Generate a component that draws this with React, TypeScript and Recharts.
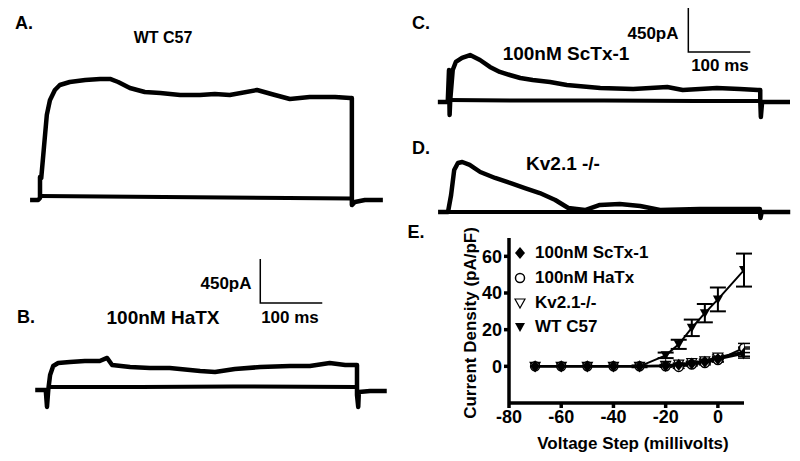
import React from "react";
import { ErrorBar, Legend, Line, LineChart, XAxis, YAxis } from "recharts";

// ---- panel E: current density vs voltage step ----
const voltages = [-70, -60, -50, -40, -30, -20, -15, -10, -5, 0, 10];
const scTx1 = [0, 0, 0, 0, 0, 0.3, 0.8, 1.5, 2.5, 4, 7];
const scTx1Err = [null, null, null, null, null, 0.5, 0.6, 0.8, 1, 1.2, 2.5];
const haTx = [0, 0, 0, 0, 0, 0, -0.3, 1, 1.8, 3.5, 10];
const haTxErr = [null, null, null, null, null, 0.5, 0.8, 0.8, 1, 1.2, 2.5];
const kv21KO = [0, 0, 0, 0, 0, 0.5, 1.2, 2, 3, 5, 8];
const kv21KOErr = [null, null, null, null, null, 0.5, 0.6, 0.8, 1, 1.2, 2.5];
const wtC57 = [0, 0, 0, 0, 0, 6, 12, 21, 29, 36.5, 52.5];
const wtC57Err = [null, null, null, null, 0.5, 1.5, 2.5, 4.5, 5, 6.5, 9];

const yTicks = [0, 20, 40, 60];
const xTicks = [-80, -60, -40, -20, 0];

const ivRows = voltages.map((v, i) => ({
  v,
  sc: scTx1[i],
  scErr: scTx1Err[i],
  ha: haTx[i],
  haErr: haTxErr[i],
  kv: kv21KO[i],
  kvErr: kv21KOErr[i],
  wt: wtC57[i],
  wtErr: wtC57Err[i],
}));

// ---- current traces, [ms from step onset, pA] ----
const traceA = [
  [-16, -31], [-3, -31], [0, -10], [0, 205], [2, 194], [6, 480], [11, 840], [16, 990],
  [24, 1094], [32, 1145], [48, 1176], [73, 1196], [97, 1207], [113, 1207], [126, 1176],
  [145, 1115], [169, 1074], [194, 1063], [226, 1043], [258, 1043], [282, 1053], [306, 1043],
  [350, 1094], [379, 1043], [403, 1002], [435, 1022], [476, 1022], [500, 1012], [503, 1012],
  [503, -82], [508, -51], [524, -31], [553, -31],
];
const baseA = [[0, 10], [100, 5], [200, 0], [300, -5], [400, -10], [503, -15]];

const traceB = [
  [-19, -31], [-2, -31], [0, -204], [2, -31], [5, 123], [10, 215], [18, 245], [37, 256],
  [61, 266], [85, 266], [97, 297], [105, 225], [134, 204], [166, 194], [198, 194],
  [247, 164], [271, 153], [303, 184], [344, 204], [392, 215], [424, 215], [456, 245],
  [481, 225], [500, 225], [500, -82], [502, -204], [503, -51], [521, -41], [548, -41],
];
const baseB = [[0, 0], [150, 0], [300, 5], [500, 0]];

const traceC = [
  [-18, -10], [-2, -10], [0, 317], [1, -143], [2, 10], [6, 317], [11, 399], [21, 440],
  [34, 470], [50, 419], [66, 348], [82, 297], [98, 266], [115, 235], [135, 215], [163, 194],
  [190, 164], [244, 133], [297, 123], [352, 143], [377, 112], [432, 133], [469, 123],
  [498, 112], [502, 112], [502, 10], [503, -164], [505, -10], [550, -10],
];
const baseC = [[0, 10], [100, 5], [250, 5], [400, 0], [502, 0]];

const traceD = [
  [-16, 0], [-2, 0], [0, 0], [5, 174], [10, 429], [16, 501], [23, 511], [35, 481],
  [52, 409], [76, 348], [100, 297], [124, 245], [148, 194], [173, 123], [194, 41],
  [221, 20], [245, 72], [277, 82], [310, 61], [342, 20], [406, 31], [471, 31], [503, 31],
  [504, -61], [506, 0], [552, 0],
];
const baseD = [[0, 0], [250, 0], [503, 0]];

// scale bars: 450 pA / 100 ms
const scaleBarB = [[344, 1309], [344, 859], [444, 859]];
const scaleBarC = [[386, 951], [386, 501], [486, 501]];

const PX_PER_MS = 0.62;
const PX_PER_PA = 0.0978;
const FONT = '"Liberation Sans", Arial, sans-serif';

const toPts = (arr: number[][]) => arr.map(([t, v]) => ({ t, v }));

type Box = { left: number; top: number; width: number; height: number };

function Trace({
  box,
  origin,
  trace,
  base,
  bar,
}: {
  box: Box;
  origin: { x: number; y: number };
  trace: number[][];
  base: number[][];
  bar?: number[][];
}) {
  const tDomain = [(box.left - origin.x) / PX_PER_MS, (box.left + box.width - origin.x) / PX_PER_MS];
  const vDomain = [-(box.top + box.height - origin.y) / PX_PER_PA, (origin.y - box.top) / PX_PER_PA];
  return (
    <div style={{ position: "absolute", left: box.left, top: box.top }}>
      <LineChart width={box.width} height={box.height} margin={{ top: 0, right: 0, bottom: 0, left: 0 }}>
        <XAxis type="number" dataKey="t" domain={tDomain} hide allowDataOverflow />
        <YAxis type="number" domain={vDomain} hide allowDataOverflow />
        <Line data={toPts(base)} dataKey="v" stroke="#000" strokeWidth={4} dot={false} isAnimationActive={false} />
        <Line
          data={toPts(trace)}
          dataKey="v"
          stroke="#000"
          strokeWidth={4.5}
          strokeLinejoin="round"
          dot={false}
          isAnimationActive={false}
        />
        {bar && (
          <Line data={toPts(bar)} dataKey="v" stroke="#000" strokeWidth={1.5} dot={false} isAnimationActive={false} />
        )}
      </LineChart>
    </div>
  );
}

function Marker({ kind, cx, cy }: { kind: string; cx: number; cy: number }) {
  if (kind === "diamond")
    return <path d={`M${cx},${cy - 6}L${cx + 5},${cy}L${cx},${cy + 6}L${cx - 5},${cy}Z`} fill="#000" />;
  if (kind === "circle") return <circle cx={cx} cy={cy} r={4.5} fill="#fff" stroke="#000" strokeWidth={1.5} />;
  const d = `M${cx - 5},${cy - 4}L${cx + 5},${cy - 4}L${cx},${cy + 5}Z`;
  if (kind === "triOpen") return <path d={d} fill="#fff" stroke="#000" strokeWidth={1.2} />;
  return <path d={d} fill="#000" />;
}

const dotOf = (kind: string) => (p: any) =>
  <Marker key={`${kind}-${p.index}`} kind={kind} cx={p.cx} cy={p.cy} />;

const legendItems = [
  { kind: "diamond", label: "100nM ScTx-1" },
  { kind: "circle", label: "100nM HaTx" },
  { kind: "triOpen", label: "Kv2.1-/-" },
  { kind: "triFill", label: "WT C57" },
];

function LegendBox() {
  return (
    <div style={{ fontFamily: FONT, fontWeight: "bold", fontSize: 17 }}>
      {legendItems.map((it) => (
        <div key={it.label} style={{ display: "flex", alignItems: "center", height: 24.7 }}>
          <svg width={12} height={14} style={{ marginRight: 9 }}>
            <Marker kind={it.kind} cx={6} cy={7} />
          </svg>
          <span>{it.label}</span>
        </div>
      ))}
    </div>
  );
}

const labels = [
  { text: "A.", x: 24, y: 23, size: 18 },
  { text: "WT C57", x: 163, y: 38, size: 16 },
  { text: "B.", x: 26, y: 317, size: 18 },
  { text: "100nM HaTX", x: 163, y: 317, size: 19 },
  { text: "450pA", x: 226, y: 283, size: 17 },
  { text: "100 ms", x: 290, y: 317, size: 17 },
  { text: "C.", x: 421, y: 23, size: 18 },
  { text: "100nM ScTx-1", x: 566, y: 53, size: 19 },
  { text: "450pA", x: 653, y: 33, size: 17 },
  { text: "100 ms", x: 720, y: 65, size: 17 },
  { text: "D.", x: 421, y: 148, size: 18 },
  { text: "Kv2.1 -/-", x: 563, y: 163, size: 19 },
  { text: "E.", x: 416, y: 232, size: 18 },
  { text: "Voltage Step (millivolts)", x: 633, y: 443, size: 17 },
  { text: "Current Density (pA/pF)", x: 470, y: 323, size: 17, rotate: true },
];

export default function App() {
  const tick = { fill: "#000", fontSize: 18, fontWeight: "bold", fontFamily: FONT };
  return (
    <div style={{ position: "absolute", left: 0, top: 0, width: 800, height: 461, background: "#fff", overflow: "hidden" }}>
      <Trace box={{ left: 20, top: 55, width: 375, height: 160 }} origin={{ x: 40, y: 197 }} trace={traceA} base={baseA} />
      <Trace
        box={{ left: 25, top: 250, width: 370, height: 165 }}
        origin={{ x: 47, y: 387 }}
        trace={traceB}
        base={baseB}
        bar={scaleBarB}
      />
      <Trace
        box={{ left: 425, top: 0, width: 375, height: 125 }}
        origin={{ x: 449, y: 101 }}
        trace={traceC}
        base={baseC}
        bar={scaleBarC}
      />
      <Trace box={{ left: 425, top: 140, width: 375, height: 85 }} origin={{ x: 448, y: 212 }} trace={traceD} base={baseD} />

      <div style={{ position: "absolute", left: 400, top: 220 }}>
        <LineChart width={400} height={241} data={ivRows} margin={{ top: 18, right: 56, bottom: 8, left: 0 }}>
          <XAxis
            type="number"
            dataKey="v"
            domain={[-80, 10]}
            ticks={xTicks}
            allowDataOverflow
            height={50}
            tick={tick}
            tickSize={5}
            tickMargin={2}
            stroke="#000"
            strokeWidth={3.5}
          />
          <YAxis
            type="number"
            domain={[-20, 70]}
            ticks={yTicks}
            allowDataOverflow
            width={109}
            tick={tick}
            tickSize={5}
            tickMargin={2}
            stroke="#000"
            strokeWidth={3.5}
          />
          <Legend
            layout="vertical"
            align="center"
            verticalAlign="middle"
            wrapperStyle={{ left: 114, top: 21, width: 160 }}
            content={() => <LegendBox />}
          />
          <Line dataKey="wt" stroke="#000" strokeWidth={2} dot={dotOf("triFill")} isAnimationActive={false}>
            <ErrorBar dataKey="wtErr" width={8} stroke="#000" strokeWidth={2} />
          </Line>
          <Line dataKey="kv" stroke="#000" strokeWidth={2} dot={dotOf("triOpen")} isAnimationActive={false}>
            <ErrorBar dataKey="kvErr" width={6} stroke="#000" strokeWidth={1.5} />
          </Line>
          <Line dataKey="ha" stroke="#000" strokeWidth={2} dot={dotOf("circle")} isAnimationActive={false}>
            <ErrorBar dataKey="haErr" width={6} stroke="#000" strokeWidth={1.5} />
          </Line>
          <Line dataKey="sc" stroke="#000" strokeWidth={2.5} dot={dotOf("diamond")} isAnimationActive={false}>
            <ErrorBar dataKey="scErr" width={6} stroke="#000" strokeWidth={1.5} />
          </Line>
        </LineChart>
      </div>

      {labels.map((l) => (
        <div
          key={l.text + l.x}
          style={{
            position: "absolute",
            left: l.x,
            top: l.y,
            transform: `translate(-50%, -50%)${l.rotate ? " rotate(-90deg)" : ""}`,
            fontFamily: FONT,
            fontWeight: "bold",
            fontSize: l.size,
            lineHeight: 1,
            whiteSpace: "nowrap",
            color: "#000",
          }}
        >
          {l.text}
        </div>
      ))}
    </div>
  );
}
